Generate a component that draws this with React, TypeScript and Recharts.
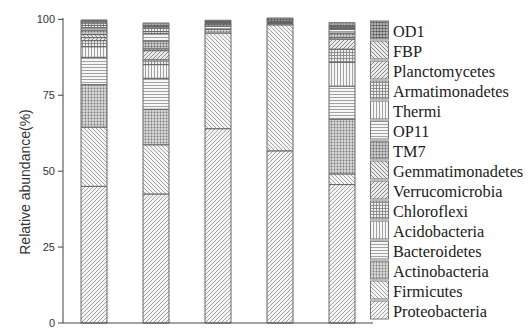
import { BarChart, Bar, XAxis, YAxis } from "recharts";

const samples = ["A", "B", "C", "D", "E"];

// bottom -> top of each stack
const proteobacteria = [45, 42.5, 64, 56.7, 45.6];
const firmicutes = [19.5, 16.2, 31.5, 41.5, 3.5];
const actinobacteria = [14, 11.7, 1.2, 0.4, 18];
const bacteroidetes = [9, 10.2, 1.0, 0.1, 10.9];
const acidobacteria = [3.5, 4.5, 0.5, 0.1, 7.8];
const chloroflexi = [2, 1.6, 0.3, 0.1, 4.4];
const verrucomicrobia = [1, 3.0, 0.2, 0.1, 3.3];
const gemmatimonadetes = [1, 0.6, 0.2, 0.1, 0.5];
const tm7 = [1.5, 2.6, 0.1, 0.1, 1.5];
const op11 = [0.8, 2.5, 0.1, 0.05, 1.2];
const thermi = [0.7, 0.6, 0.05, 0.05, 0.3];
const armatimonadetes = [0.8, 1.2, 0.05, 0.05, 0.4];
const planctomycetes = [0.4, 0.4, 0.05, 0.05, 0.3];
const fbp = [0.3, 0.3, 0.05, 0.05, 0.2];
const od1 = [0.3, 0.9, 0.4, 1.0, 1.0];

const series = [
  { key: "Proteobacteria", values: proteobacteria, pattern: "diagR" },
  { key: "Firmicutes", values: firmicutes, pattern: "diagL" },
  { key: "Actinobacteria", values: actinobacteria, pattern: "cross" },
  { key: "Bacteroidetes", values: bacteroidetes, pattern: "horiz" },
  { key: "Acidobacteria", values: acidobacteria, pattern: "vert" },
  { key: "Chloroflexi", values: chloroflexi, pattern: "grid" },
  { key: "Verrucomicrobia", values: verrucomicrobia, pattern: "diagR2" },
  { key: "Gemmatimonadetes", values: gemmatimonadetes, pattern: "diagL2" },
  { key: "TM7", values: tm7, pattern: "cross2" },
  { key: "OP11", values: op11, pattern: "horiz" },
  { key: "Thermi", values: thermi, pattern: "vert" },
  { key: "Armatimonadetes", values: armatimonadetes, pattern: "grid" },
  { key: "Planctomycetes", values: planctomycetes, pattern: "diagR2" },
  { key: "FBP", values: fbp, pattern: "diagL2" },
  { key: "OD1", values: od1, pattern: "cross3" },
];

const data = samples.map((s, i) => {
  const row: Record<string, string | number> = { sample: s };
  series.forEach((d) => (row[d.key] = d.values[i]));
  return row;
});

const serif = "Liberation Serif";
const sans = "Liberation Sans";

function Patterns() {
  return (
    <defs>
      <pattern id="diagR" width="4" height="4" patternUnits="userSpaceOnUse">
        <rect width="4" height="4" fill="#f4f4f4" />
        <path d="M-1,1 l2,-2 M0,4 l4,-4 M3,5 l2,-2" stroke="#9a9a9a" strokeWidth="0.9" />
      </pattern>
      <pattern id="diagL" width="4" height="4" patternUnits="userSpaceOnUse">
        <rect width="4" height="4" fill="#f4f4f4" />
        <path d="M-1,3 l2,2 M0,0 l4,4 M3,-1 l2,2" stroke="#9a9a9a" strokeWidth="0.9" />
      </pattern>
      <pattern id="diagR2" width="4" height="4" patternUnits="userSpaceOnUse">
        <rect width="4" height="4" fill="#eaeaea" />
        <path d="M-1,1 l2,-2 M0,4 l4,-4 M3,5 l2,-2" stroke="#888" strokeWidth="1" />
      </pattern>
      <pattern id="diagL2" width="4" height="4" patternUnits="userSpaceOnUse">
        <rect width="4" height="4" fill="#eaeaea" />
        <path d="M-1,3 l2,2 M0,0 l4,4 M3,-1 l2,2" stroke="#888" strokeWidth="1" />
      </pattern>
      <pattern id="horiz" width="4" height="3" patternUnits="userSpaceOnUse">
        <rect width="4" height="3" fill="#f6f6f6" />
        <path d="M0,1.5 h4" stroke="#999" strokeWidth="0.9" />
      </pattern>
      <pattern id="vert" width="3" height="4" patternUnits="userSpaceOnUse">
        <rect width="3" height="4" fill="#f6f6f6" />
        <path d="M1.5,0 v4" stroke="#999" strokeWidth="0.9" />
      </pattern>
      <pattern id="grid" width="3" height="3" patternUnits="userSpaceOnUse">
        <rect width="3" height="3" fill="#eee" />
        <path d="M1.5,0 v3 M0,1.5 h3" stroke="#888" strokeWidth="0.9" />
      </pattern>
      <pattern id="cross" width="3" height="3" patternUnits="userSpaceOnUse">
        <rect width="3" height="3" fill="#d8d8d8" />
        <circle cx="1.5" cy="1.5" r="0.9" fill="#777" />
      </pattern>
      <pattern id="cross2" width="3" height="3" patternUnits="userSpaceOnUse">
        <rect width="3" height="3" fill="#cfcfcf" />
        <circle cx="1.5" cy="1.5" r="1" fill="#666" />
      </pattern>
      <pattern id="cross3" width="3" height="3" patternUnits="userSpaceOnUse">
        <rect width="3" height="3" fill="#bbb" />
        <circle cx="1.5" cy="1.5" r="1.1" fill="#444" />
      </pattern>
    </defs>
  );
}

// legend drawn inside the chart svg, OD1 on top
function LegendList() {
  return (
    <g>
      {[...series].reverse().map((s, i) => {
        const cy = 30 + i * 20;
        return (
          <g key={s.key}>
            <rect x={370.5} y={cy - 9} width={18} height={18} fill={`url(#${s.pattern})`} stroke="#777" />
            <text x={393} y={cy + 1} dominantBaseline="central" fontFamily={serif} fontSize={16.3} fill="#1a1a1a">
              {s.key}
            </text>
          </g>
        );
      })}
    </g>
  );
}

function YLabel() {
  return (
    <text
      x={25}
      y={182}
      transform="rotate(-90 25 182)"
      textAnchor="middle"
      dominantBaseline="central"
      fill="#333"
      fontFamily={sans}
      fontSize={14}
    >
      Relative abundance(%)
    </text>
  );
}

export default function App() {
  return (
    <div style={{ position: "absolute", left: 0, top: 0, width: 530, height: 331, background: "#fff", overflow: "hidden" }}>
      <BarChart width={530} height={331} data={data} margin={{ top: 18, right: 157, bottom: 0, left: 0 }}>
        <Patterns />
        <XAxis
          dataKey="sample"
          height={8}
          tickLine={false}
          stroke="#444"
          tick={{ fill: "#222", fontFamily: serif, fontSize: 15 }}
          tickMargin={1}
        />
        <YAxis
          width={63}
          domain={[0, 100]}
          ticks={[0, 25, 50, 75, 100]}
          stroke="#444"
          tickSize={5}
          tickMargin={3}
          tick={{ fill: "#333", fontFamily: sans, fontSize: 11 }}
          label={{ content: () => <YLabel /> }}
        />
        {series.map((s) => (
          <Bar
            key={s.key}
            dataKey={s.key}
            stackId="a"
            barSize={26}
            fill={`url(#${s.pattern})`}
            stroke="#666"
            strokeWidth={1}
            isAnimationActive={false}
          />
        ))}
        <LegendList />
      </BarChart>
    </div>
  );
}
